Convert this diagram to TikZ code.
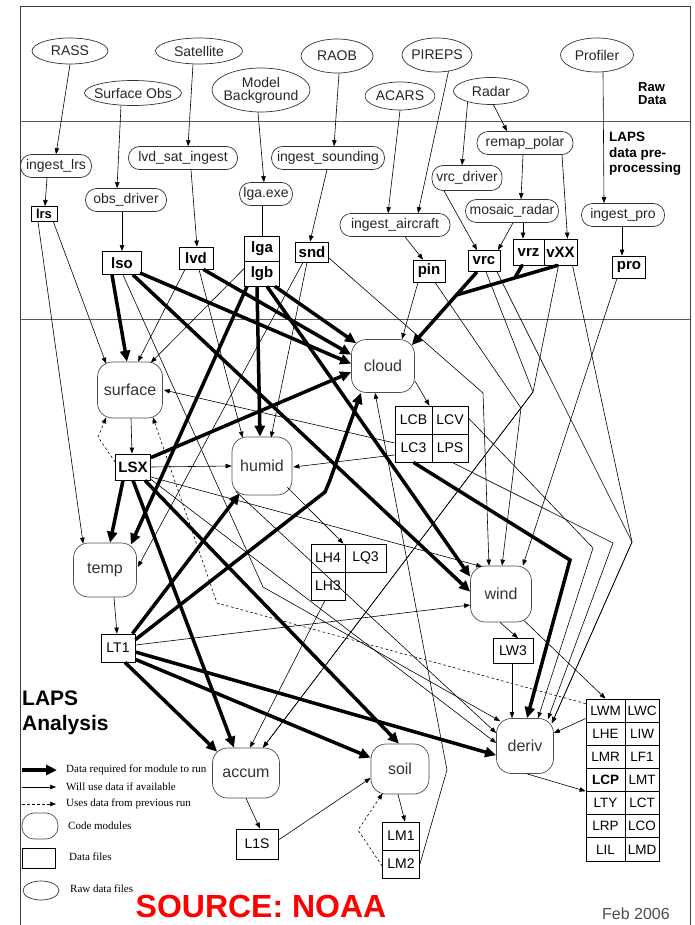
\documentclass[tikz,border=0pt]{standalone}
\usepackage{fontspec}
\setmainfont{Liberation Sans}
\newfontfamily\legfont{Liberation Serif}
\usetikzlibrary{arrows.meta,shapes.geometric,calc}
\begin{document}
\begin{tikzpicture}[x=1pt,y=-1pt,
  raw/.style={draw=black!80, ellipse, inner sep=-6pt, font=\fontsize{14}{15}\selectfont, text=black!85, line width=0.7pt},
  pre/.style={draw=black!80, rectangle, rounded corners=11pt, minimum height=23pt, inner sep=0pt, font=\fontsize{14}{16}\selectfont, text=black!85, line width=0.7pt},
  module/.style={draw=black!70, rectangle, rounded corners=15pt, inner sep=0pt, font=\fontsize{16}{18}\selectfont, text=black!80, line width=0.7pt},
  dfile/.style={draw, rectangle, inner sep=0pt, font=\bfseries\fontsize{15}{16}\selectfont, line width=0.8pt},
  lfile/.style={draw, rectangle, inner sep=0pt, font=\fontsize{14}{16}\selectfont, line width=0.8pt},
  gcell/.style={draw, rectangle, inner sep=0pt, minimum height=23.14pt, font=\fontsize{13.5}{15}\selectfont, line width=0.8pt},
  opt/.style={line width=0.6pt, -{Triangle[length=6pt,width=4.5pt]}},
  plain/.style={line width=0.6pt},
  req/.style={line width=3.5pt, -{Triangle[length=11pt,width=10pt]}},
  thickline/.style={line width=3.5pt, line cap=round},
  prev/.style={line width=0.6pt, dash pattern=on 2.5pt off 2.5pt, -{Triangle[length=6pt,width=4.5pt]}},
  legtext/.style={anchor=west, inner sep=0pt, font=\legfont\fontsize{11}{12}\selectfont}
]
\useasboundingbox (0,0) rectangle (695,925);
% frame
\draw[line width=0.9pt, black!75] (20,925) -- (20,6) -- (690,6) -- (690,925);
\draw[line width=0.9pt, black!65] (20,121) -- (690,121);
\draw[line width=0.9pt, black!65] (20,319) -- (690,319);

% raw data
\node[raw, minimum width=76pt, minimum height=26pt] (rass) at (70,51) {RASS};
\node[raw, minimum width=87pt, minimum height=26pt] (sat) at (199,51) {Satellite};
\node[raw, minimum width=97pt, minimum height=25pt] (sfcobs) at (133,93) {Surface Obs};
\node[raw, minimum width=98pt, minimum height=44pt, align=center] (model) at (261,90) {Model\\[-2pt]Background};
\node[raw, minimum width=72pt, minimum height=34pt] (raob) at (337,56) {RAOB};
\node[raw, minimum width=70pt, minimum height=34pt] (pireps) at (437,55) {PIREPS};
\node[raw, minimum width=70pt, minimum height=28pt] (acars) at (400,96) {ACARS};
\node[raw, minimum width=75pt, minimum height=27pt] (radar) at (491,91) {Radar};
\node[raw, minimum width=73pt, minimum height=34pt] (profiler) at (597,55) {Profiler};
\node[anchor=west, align=left, inner sep=0pt, font=\bfseries\fontsize{13}{13}\selectfont] (rawlab) at (638,94) {Raw\\Data};
\node[anchor=north west, align=left, inner sep=0pt, font=\bfseries\fontsize{13.5}{15.5}\selectfont] (prelab) at (609,132) {LAPS\\data pre-\\processing};

% preprocessing
\node[pre, minimum width=71pt] (ingestlrs) at (56,166) {ingest\_lrs};
\node[pre, minimum width=109pt] (lvdsat) at (183,158) {lvd\_sat\_ingest};
\node[pre, minimum width=113pt] (ingestsnd) at (328,158) {ingest\_sounding};
\node[pre, minimum width=81pt] (obsdriver) at (126,200) {obs\_driver};
\node[pre, minimum width=53pt] (lgaexe) at (266,194) {lga.exe};
\node[pre, minimum width=96pt] (remap) at (525,143) {remap\_polar};
\node[pre, minimum width=70pt, minimum height=25pt] (vrcdriver) at (467,178) {vrc\_driver};
\node[pre, minimum width=93pt] (mosaic) at (512,211) {mosaic\_radar};
\node[pre, minimum width=110pt] (ingestair) at (395,225) {ingest\_aircraft};
\node[pre, minimum width=83pt] (ingestpro) at (623,215) {ingest\_pro};

% data files (preprocessed)
\node[dfile, minimum width=26pt, minimum height=15pt, font=\bfseries\fontsize{13}{14}\selectfont] (lrs) at (44,214) {lrs};
\node[dfile, minimum width=39pt, minimum height=23pt] (lso) at (122,263) {lso};
\node[dfile, minimum width=34pt, minimum height=22pt] (lvd) at (196,258) {lvd};
\node[dfile, minimum width=35pt, minimum height=25pt] (lga) at (262,248.5) {lga};
\node[dfile, minimum width=35pt, minimum height=25pt] (lgb) at (262,273.5) {lgb};
\node[dfile, minimum width=33pt, minimum height=20pt] (snd) at (312,252) {snd};
\node[dfile, minimum width=32pt, minimum height=22pt] (pin) at (429,271) {pin};
\node[dfile, minimum width=32pt, minimum height=21pt] (vrc) at (484,261) {vrc};
\node[dfile, minimum width=31pt, minimum height=26pt] (vrz) at (528.5,252) {vrz};
\node[dfile, minimum width=33pt, minimum height=26pt] (vXX) at (560.5,252) {vXX};
\node[dfile, minimum width=33pt, minimum height=22pt] (pro) at (629,267) {pro};

% modules
\node[module, minimum width=65pt, minimum height=56pt] (surface) at (130,390) {surface};
\node[module, minimum width=60pt, minimum height=58pt] (humid) at (262,466) {humid};
\node[module, minimum width=63pt, minimum height=54pt] (temp) at (105,570) {temp};
\node[module, minimum width=63pt, minimum height=53pt] (cloud) at (383,366) {cloud};
\node[module, minimum width=61pt, minimum height=56pt] (wind) at (501,594) {wind};
\node[module, minimum width=57pt, minimum height=55pt] (deriv) at (525,746) {deriv};
\node[module, minimum width=58pt, minimum height=50pt] (soil) at (400,769) {soil};
\node[module, minimum width=67pt, minimum height=50pt] (accum) at (246,773) {accum};

% analysis files
\node[lfile, font=\bfseries\fontsize{15}{16}\selectfont, minimum width=35pt, minimum height=26pt] (LSX) at (133,467) {LSX};
\node[lfile, minimum width=34pt, minimum height=28pt] (LT1) at (118,648) {LT1};
\node[lfile, minimum width=42pt, minimum height=30pt] (L1S) at (257,844) {L1S};
\node[lfile, minimum width=40pt, minimum height=25pt] (LW3) at (513,651) {LW3};
\node[lfile, minimum width=37pt, minimum height=28pt] (LM1) at (401,836) {LM1};
\node[lfile, minimum width=37pt, minimum height=28pt] (LM2) at (401,864) {LM2};
\node[lfile, minimum width=34pt, minimum height=28pt] (LH4) at (328,558) {LH4};
\node[lfile, minimum width=41pt, minimum height=28pt] (LQ3) at (365.5,558) {LQ3};
\node[lfile, minimum width=34pt, minimum height=28pt] (LH3) at (328,586) {LH3};
\node[lfile, minimum width=37pt, minimum height=28pt] (LCB) at (413.5,420) {LCB};
\node[lfile, minimum width=36pt, minimum height=28pt] (LCV) at (450,420) {LCV};
\node[lfile, minimum width=37pt, minimum height=28pt] (LC3) at (413.5,448) {LC3};
\node[lfile, minimum width=36pt, minimum height=28pt] (LPS) at (450,448) {LPS};

% derived grid
\node[gcell, minimum width=39pt] (LWM) at (605.5,710.57) {LWM};
\node[gcell, minimum width=34pt] (LWC) at (642,710.57) {LWC};
\node[gcell, minimum width=39pt] (LHE) at (605.5,733.71) {LHE};
\node[gcell, minimum width=34pt] (LIW) at (642,733.71) {LIW};
\node[gcell, minimum width=39pt] (LMR) at (605.5,756.85) {LMR};
\node[gcell, minimum width=34pt] (LF1) at (642,756.85) {LF1};
\node[gcell, minimum width=39pt, font=\bfseries\fontsize{13.5}{15}\selectfont] (LCP) at (605.5,779.99) {LCP};
\node[gcell, minimum width=34pt] (LMT) at (642,779.99) {LMT};
\node[gcell, minimum width=39pt] (LTY) at (605.5,803.13) {LTY};
\node[gcell, minimum width=34pt] (LCT) at (642,803.13) {LCT};
\node[gcell, minimum width=39pt] (LRP) at (605.5,826.27) {LRP};
\node[gcell, minimum width=34pt] (LCO) at (642,826.27) {LCO};
\node[gcell, minimum width=39pt] (LIL) at (605.5,849.41) {LIL};
\node[gcell, minimum width=34pt] (LMD) at (642,849.41) {LMD};

% ---------- top connectors
\draw[opt] (rass.south) -- (ingestlrs.north);
\draw[opt] ($(sat.south)+(-6,0)$) -- ($(lvdsat.north)+(5,0)$);
\draw[opt] ($(sfcobs.south)+(-12,0)$) -- ($(obsdriver.north)+(-9,0)$);
\draw[opt] ($(model.south)+(-3,0)$) -- ($(lgaexe.north)+(-2,0)$);
\draw[opt] ($(raob.south)+(2,0)$) -- ($(ingestsnd.north)+(6,0)$);
\draw[opt] (pireps.-55) -- ($(ingestair.north)+(23,0)$);
\draw[opt] (acars.south) -- ($(ingestair.north)+(-7,0)$);
\draw[opt] (radar.-155) -- ($(vrcdriver.north)+(-5,0)$);
\draw[opt] (radar.-80) -- ($(remap.north)+(-18,0)$);
\draw[opt] ($(remap.south)+(-2,0)$) -- ($(mosaic.north)+(9,0)$);
\draw[opt] ($(remap.south)+(37,0)$) -- ($(vXX.north)+(7,0)$);
\draw[opt] ($(profiler.south)+(6,0)$) -- ($(ingestpro.north)+(-19,0)$);
\draw[opt] ($(ingestlrs.south)+(-9,0)$) -- ($(lrs.north)+(1,0)$);
\draw[opt] ($(obsdriver.south)+(-4,0)$) -- (lso.north);
\draw[opt] ($(lvdsat.south)+(8,0)$) -- ($(lvd.north)+(1,0)$);
\draw[plain] ($(lgaexe.south)+(-4,0)$) -- (lga.north);
\draw[opt] ($(ingestsnd.south)+(-1,0)$) -- ($(snd.north)+(-2,0)$);
\draw[opt] ($(ingestair.south)+(10,0)$) -- ($(pin.north)+(-6,0)$);
\draw[opt] ($(vrcdriver.south)+(-23,0)$) -- ($(vrc.north)+(-7,0)$);
\draw[opt] ($(mosaic.south)+(1,0)$) -- ($(vrc.north)+(14,0)$);
\draw[opt] ($(mosaic.south)+(11,0)$) -- ($(vrz.north)+(-5.5,0)$);
\draw[opt] ($(ingestpro.south)+(-1,0)$) -- ($(pro.north)+(-7,0)$);

% ---------- radar thick
\coordinate (rmerge) at (456.5,295);
\coordinate (rjoin) at (515,277.6);
\draw[req] ($(vrc.south)+(-7,0)$) -- ($(cloud.north east)+(-3,6)$);
\draw[thickline] ($(vXX.south)+(-3,0)$) -- (rmerge);
\draw[thickline] ($(vrz.south)+(-6.5,0)$) -- (rjoin);

% ---------- required (thick)
\draw[req] ($(lso.south)+(-10,0)$) -- ($(surface.north)+(-3,0)$);
\draw[req] ($(lso.south east)+(-2,-2)$) -- ($(cloud.north west)+(0,24.5)$);
\draw[req] ($(lso.south)+(11,0)$) -- ($(wind.north west)+(0,26)$);
\draw[req] ($(lvd.south east)+(-10,0)$) -- ($(cloud.north west)+(0,15.5)$);
\draw[req] ($(lgb.south west)+(3,0)$) -- ($(temp.north east)+(-6,2)$);
\draw[req] ($(lgb.south)+(-5,0)$) -- ($(humid.north)+(-2,0)$);
\draw[req] ($(lgb.south)+(5,0)$) -- ($(wind.north west)+(0,11)$);
\draw[req] ($(lgb.south east)+(-5,0)$) -- ($(cloud.north west)+(5,4)$);
\draw[req] ($(LSX.south)+(-10,0)$) -- ($(temp.north)+(5,0)$);
\draw[req] ($(LSX.north east)+(0,4)$) -- ($(cloud.north west)+(0,33)$);
\draw[req] (LSX.south) -- ($(accum.north)+(-12,0)$);
\draw[req] ($(LSX.south east)+(-6,0)$) -- ($(soil.north)+(-1,0)$);
\draw[req] ($(LT1.north east)+(-3,0)$) -- ($(humid.south west)+(8,-2)$);
\draw[req] ($(LT1.north east)+(0,6)$) -- (325,492) -- (330,480) -- ($(cloud.south)+(-22,0)$);
\draw[req] ($(LT1.south)+(7,0)$) -- ($(accum.north west)+(5,4)$);
\draw[req] ($(LT1.south east)+(0,-3)$) -- ($(soil.north west)+(0,14)$);
\draw[req] ($(LT1.east)+(0,4)$) -- ($(deriv.north west)+(0,37)$);
\draw[req] (LC3.south) -- (570,560) -- ($(deriv.north)+(2,0)$);

% ---------- optional (thin)
\draw[opt] ($(lrs.south east)+(-4,0)$) -- ($(surface.north west)+(9,2)$);
\draw[opt] ($(lrs.south)+(-6,0)$) -- ($(temp.north west)+(10,1)$);
\draw[opt] ($(lso.south)+(1,0)$) -- (263,587) -- ($(deriv.north west)+(4,3)$);
\draw[opt] ($(lvd.south)+(-11,0)$) -- ($(surface.north)+(8,0)$);
\draw[opt] ($(lvd.south)+(3,0)$) -- ($(humid.north west)+(11,1)$);
\draw[opt] ($(lgb.west)+(0,-5)$) -- ($(surface.north east)+(-12,1)$);
\draw[opt] ($(snd.south)+(-9,0)$) -- ($(temp.east)+(1,-3)$);
\draw[opt] ($(snd.south)+(-5,0)$) -- ($(humid.north)+(9,1)$);
\draw[opt] ($(snd.east)+(0,6)$) -- (483,393) -- ($(wind.north)+(-12,0)$);
\draw[opt] ($(pin.south)+(-11,0)$) -- ($(cloud.north)+(19,0)$);
\draw[opt] ($(pin.south)+(6,0)$) -- (521,408) -- ($(wind.north)+(1,0)$);
\draw[opt] ($(vrc.south)+(2,0)$) -- (533,392) -- ($(accum.north)+(17,0)$);
\draw[opt] ($(vXX.south)+(-2,0)$) -- (533,392) -- ($(accum.north)+(17,0)$);
\draw[opt] ($(vrc.south)+(13,0)$) -- (632,542) -- ($(deriv.north east)+(-2,5)$);
\draw[opt] ($(vXX.south)+(12,0)$) -- (632,542) -- ($(deriv.north east)+(-2,5)$);
\draw[opt] ($(pro.south)+(-12,0)$) -- ($(wind.north east)+(-9,0)$);
\draw[opt] ($(LCV.east)+(0,-2)$) -- (593,548) -- ($(deriv.north)+(13,0)$);
\draw[opt] ($(LPS.south)+(2,0)$) -- (613,543) -- ($(deriv.north east)+(-6,1)$);
\draw[opt] ($(LC3.west)+(0,-5)$) -- ($(surface.east)+(1,0)$);
\draw[opt] ($(LC3.west)+(0,7)$) -- ($(humid.east)+(1,1)$);
\draw[opt] ($(cloud.south east)+(0,-12)$) -- ($(LCB.north east)+(-3,0)$);
\draw[opt] ($(humid.south east)+(-5,-8)$) -- ($(LH4.north east)+(-2,0)$);
\draw[opt] (LSX.east) -- (humid.west);
\draw[opt] ($(LSX.east)+(0,10)$) -- ($(wind.north west)+(12,1)$);
\draw[opt] ($(LSX.south east)+(0,-1)$) -- ($(deriv.west)+(0,-3)$);
\draw[opt] ($(humid.south west)+(4,-4)$) -- ($(deriv.west)+(0,-13)$);
\draw[opt] ($(LT1.east)+(0,-3)$) -- ($(wind.west)+(0,11)$);
\draw[opt] ($(temp.south)+(9,0)$) -- ($(LT1.north)+(-1,0)$);
\draw[opt] ($(surface.south)+(1,0)$) -- ($(LSX.north)+(-1,0)$);
\draw[opt] ($(wind.south)+(-1,0)$) -- ($(LW3.north)+(5,0)$);
\draw[opt] ($(wind.south east)+(-8,-2)$) -- (LWM.north);
\draw[opt] ($(LW3.south)+(-1,0)$) -- ($(deriv.north)+(-13,0)$);
\draw[opt] ($(LWM.south west)+(0,-4)$) -- ($(deriv.east)+(0,-13)$);
\draw[opt] ($(deriv.south)+(2,0)$) -- (LTY.north west);
\draw[opt] (accum.south) -- ($(L1S.north)+(3,0)$);
\draw[opt] ($(L1S.east)+(0,-4)$) -- ($(soil.west)+(0,9)$);
\draw[opt] ($(soil.south)+(-2,0)$) -- ($(LM1.north)+(4,0)$);
\draw[opt] (LM2.east) -- (447,770) -- ($(cloud.south)+(-8,0)$);
\draw[opt] ($(LH3.south)+(-3,0)$) -- ($(accum.north)+(4,0)$);

% ---------- previous run (dashed)
\draw[prev] ($(LSX.west)+(0,-5)$) -- (98,437) -- ($(surface.south west)+(9,-1)$);
\draw[prev] ($(LWM.west)+(0,-7)$) -- (217,603) -- ($(surface.south east)+(-10,-1)$);
\draw[prev] ($(LM2.west)+(0,2)$) -- (358,830) -- ($(soil.south west)+(12,-1)$);

% ---------- title and legend
\node[anchor=west, align=left, inner sep=0pt, font=\bfseries\fontsize{21}{25}\selectfont] (title) at (22,713) {LAPS\\Analysis};
\coordinate (lgA1) at (22,770); \coordinate (lgA2) at (57,770);
\coordinate (lgB1) at (22,787); \coordinate (lgB2) at (56,787);
\coordinate (lgC1) at (22,804); \coordinate (lgC2) at (56,804);
\draw[req] (lgA1) -- (lgA2);
\draw[opt] (lgB1) -- (lgB2);
\draw[prev] (lgC1) -- (lgC2);
\node[legtext] (lt1) at (66,770) {Data required for module to run};
\node[legtext] (lt2) at (66,787) {Will use data if available};
\node[legtext] (lt3) at (66,804) {Uses data from previous run};
\node[draw=black!70, rectangle, rounded corners=12pt, minimum width=36pt, minimum height=26pt, line width=0.7pt] (legmod) at (40,826) {};
\node[draw, rectangle, minimum width=33pt, minimum height=20pt, line width=0.7pt] (legfile) at (38.5,858) {};
\node[draw=black!80, ellipse, minimum width=36pt, minimum height=19pt, line width=0.7pt] (legraw) at (41,890.5) {};
\node[legtext] (lt4) at (68,826) {Code modules};
\node[legtext] (lt5) at (69,857) {Data files};
\node[legtext] (lt6) at (70,889) {Raw data files};

\node[text=red, inner sep=0pt, font=\bfseries\fontsize{32}{34}\selectfont] (src) at (261,906) {SOURCE: NOAA};
\node[text=black!70, inner sep=0pt, font=\fontsize{16}{18}\selectfont] (date) at (636,914) {Feb 2006};
\end{tikzpicture}
\end{document}
